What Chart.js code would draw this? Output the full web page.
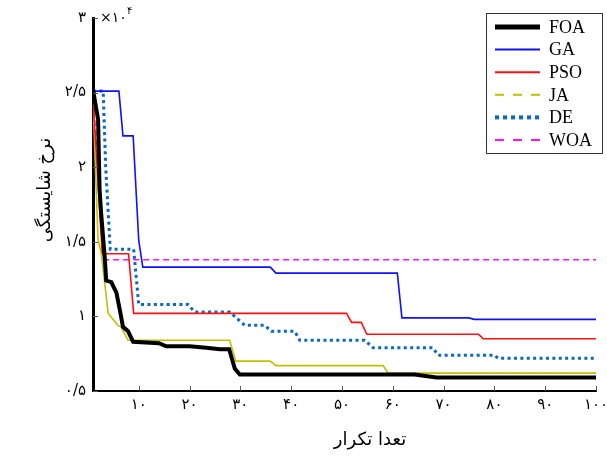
<!DOCTYPE html>
<html>
<head>
<meta charset="utf-8">
<script src="https://cdn.jsdelivr.net/npm/chart.js@4.4.1/dist/chart.umd.min.js"></script>
<style>
  html, body { margin: 0; padding: 0; background: #fff; }
  #wrap { width: 607px; height: 456px; }
</style>
</head>
<body>
<div id="wrap"><canvas id="c" width="607" height="456"></canvas></div>
<script>
// Convergence curves (fitness x 10^4 per iteration).
const xTickValues = [10, 20, 30, 40, 50, 60, 70, 80, 90, 100];
const xTickLabels = ['۱۰', '۲۰', '۳۰', '۴۰', '۵۰', '۶۰', '۷۰', '۸۰', '۹۰', '۱۰۰'];
const yTickValues = [0.5, 1, 1.5, 2, 2.5, 3];
const yTickLabels = ['۰/۵', '۱', '۱/۵', '۲', '۲/۵', '۳'];

const foaX = [1, 2, 2.3, 2.6, 3.3, 3.6, 4.6, 5.6, 6.3, 6.9, 7.9, 8.9, 14, 15.4, 20, 23.3, 26, 27.8, 28.9, 29.9, 64.3, 68.6, 100];
const foaY = [2.52, 2.32, 1.85, 1.69, 1.40, 1.24, 1.23, 1.16, 1.04, 0.93, 0.90, 0.83, 0.82, 0.80, 0.80, 0.79, 0.78, 0.78, 0.65, 0.61, 0.61, 0.59, 0.59];

const gaX = [1, 6.1, 6.9, 8.9, 10, 10.8, 35.9, 37, 60.9, 61.8, 75, 76, 100];
const gaY = [2.51, 2.51, 2.21, 2.21, 1.51, 1.33, 1.33, 1.29, 1.29, 0.99, 0.99, 0.98, 0.98];

const psoX = [1, 2, 2.8, 3.5, 8, 9, 50.9, 51.9, 53.8, 54.9, 76.9, 77.8, 100];
const psoY = [2.45, 1.9, 1.43, 1.42, 1.42, 1.02, 1.02, 0.96, 0.96, 0.88, 0.88, 0.85, 0.85];

const jaX = [1, 2, 2.6, 4, 5.9, 6.5, 7.9, 27.9, 29.1, 35.9, 37, 58.1, 59.1, 100];
const jaY = [2.45, 1.51, 1.43, 1.02, 0.94, 0.93, 0.84, 0.84, 0.70, 0.70, 0.67, 0.67, 0.62, 0.62];

const deX = [1, 3, 3.5, 4.4, 9, 10, 19.7, 21, 27.9, 30.9, 34.8, 36.1, 40.7, 41.7, 54.5, 56.1, 67.9, 68.9, 80, 80.7, 100];
const deY = [2.51, 2.51, 2.0, 1.45, 1.45, 1.08, 1.08, 1.03, 1.03, 0.94, 0.94, 0.90, 0.90, 0.84, 0.84, 0.79, 0.79, 0.74, 0.74, 0.72, 0.72];

const woaX = [1, 2.3, 3, 100];
const woaY = [2.45, 1.92, 1.38, 1.38];

const pts = (xs, ys) => xs.map((x, i) => ({ x, y: ys[i] }));

const persian = '"DejaVu Sans", sans-serif';

// inner ticks, axis titles, exponent and the boxed legend
const overlay = {
  id: 'overlay',
  afterDraw(chart) {
    const ctx = chart.ctx;
    const xs = chart.scales.x, ys = chart.scales.y, a = chart.chartArea;
    ctx.save();
    ctx.strokeStyle = '#555'; ctx.lineWidth = 1;
    xTickValues.forEach(v => {
      const px = Math.round(xs.getPixelForValue(v)) + 0.5;
      ctx.beginPath(); ctx.moveTo(px, a.bottom); ctx.lineTo(px, a.bottom - 5); ctx.stroke();
    });
    yTickValues.forEach(v => {
      const py = Math.round(ys.getPixelForValue(v)) + 0.5;
      ctx.beginPath(); ctx.moveTo(a.left, py); ctx.lineTo(a.left + 5, py); ctx.stroke();
    });

    ctx.fillStyle = '#000';
    // exponent
    ctx.direction = 'ltr';
    ctx.textAlign = 'left'; ctx.textBaseline = 'alphabetic';
    ctx.font = '14px ' + persian;
    ctx.fillText('×۱۰', a.left + 7, 22);
    ctx.font = '10px ' + persian;
    ctx.fillText('۴', a.left + 34, 14);

    // axis titles
    ctx.direction = 'rtl';
    ctx.textAlign = 'center'; ctx.textBaseline = 'middle';
    ctx.font = '18px ' + persian;
    ctx.fillText('تعدا تکرار', 370, 440);
    ctx.save();
    ctx.translate(45, 190);
    ctx.rotate(-Math.PI / 2);
    ctx.fillText('نرخ شایستگی', 0, 0);
    ctx.restore();

    // legend
    ctx.direction = 'ltr';
    const bx = 486.5, by = 13.5, bw = 116, bh = 140;
    ctx.fillStyle = '#fff';
    ctx.fillRect(bx, by, bw, bh);
    ctx.strokeStyle = '#333'; ctx.lineWidth = 1; ctx.setLineDash([]);
    ctx.strokeRect(bx, by, bw, bh);
    ctx.font = '18px "Liberation Serif", serif';
    ctx.textAlign = 'left'; ctx.textBaseline = 'middle';
    chart.data.datasets.forEach((ds, i) => {
      const ly = 27 + i * 22.6;
      ctx.beginPath();
      ctx.strokeStyle = ds.borderColor;
      ctx.lineWidth = ds.legendWidth;
      ctx.setLineDash(ds.legendDash);
      ctx.lineCap = 'butt';
      ctx.moveTo(495, ly); ctx.lineTo(540, ly);
      ctx.stroke();
      ctx.setLineDash([]);
      ctx.fillStyle = '#000';
      ctx.fillText(ds.label, 549, ly + 1);
    });
    ctx.restore();
  }
};

const line = (label, xs, ys, color, width, dash, legendWidth, legendDash) => ({
  label, data: pts(xs, ys), borderColor: color, borderWidth: width,
  borderDash: dash, legendWidth, legendDash,
  pointRadius: 0, tension: 0, fill: false
});

new Chart(document.getElementById('c'), {
  type: 'line',
  data: {
    datasets: [
      line('FOA', foaX, foaY, '#000000', 4, [], 5, []),
      line('GA', gaX, gaY, '#1010ff', 1.6, [], 2, []),
      line('PSO', psoX, psoY, '#ff1010', 1.6, [], 2, []),
      line('JA', jaX, jaY, '#c0c000', 1.6, [], 2, [9, 9]),
      line('DE', deX, deY, '#0868c8', 3, [3, 3.4], 4, [4, 4]),
      line('WOA', woaX, woaY, '#ff10ff', 1.6, [6, 4], 2, [9, 9])
    ]
  },
  options: {
    responsive: false,
    animation: false,
    devicePixelRatio: 1,
    layout: { padding: { top: 18, right: 0, left: 0, bottom: 0 } },
    plugins: { legend: { display: false }, tooltip: { enabled: false } },
    scales: {
      x: {
        type: 'linear', min: 1, max: 100,
        afterFit: s => { s.height = 65; s.paddingRight = 11; },
        afterBuildTicks: s => { s.ticks = xTickValues.map(v => ({ value: v })); },
        grid: { display: true, drawOnChartArea: false, drawTicks: false },
        border: { display: true, color: '#000', width: 2 },
        ticks: {
          padding: 5, color: '#000', font: { family: persian, size: 15 },
          maxRotation: 0, autoSkip: false,
          callback: v => xTickLabels[xTickValues.indexOf(v)]
        }
      },
      y: {
        type: 'linear', min: 0.5, max: 3,
        afterFit: s => { s.width = 93; },
        afterBuildTicks: s => { s.ticks = yTickValues.map(v => ({ value: v })); },
        grid: { display: true, drawOnChartArea: false, drawTicks: false },
        border: { display: true, color: '#000', width: 3 },
        ticks: {
          padding: 7, color: '#000', font: { family: persian, size: 15 },
          autoSkip: false,
          callback: v => yTickLabels[yTickValues.indexOf(v)]
        }
      }
    }
  },
  plugins: [overlay]
});
</script>
</body>
</html>
